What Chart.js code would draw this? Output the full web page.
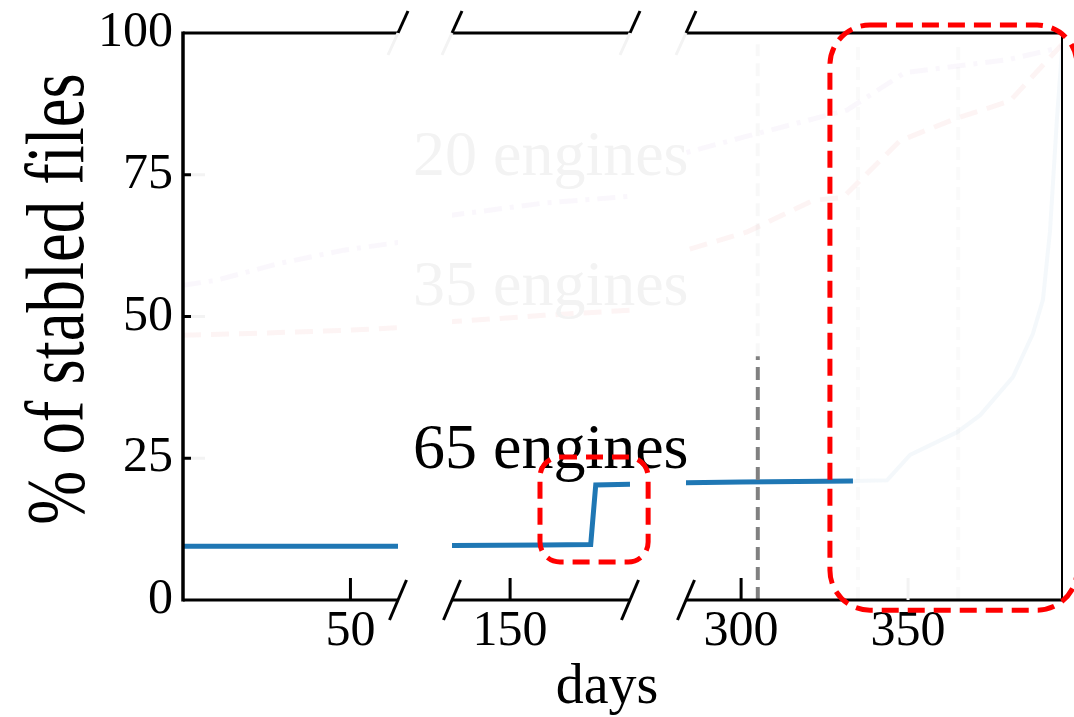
<!DOCTYPE html>
<html>
<head>
<meta charset="utf-8">
<title>% of stabled files</title>
<script src="https://cdn.jsdelivr.net/npm/chart.js@4.4.1/dist/chart.umd.min.js"></script>
<style>
  body { margin: 0; background: #fff; }
  #wrap { position: relative; width: 1074px; height: 717px; }
  #wrap canvas { position: absolute; left: 0; top: 0; }
</style>
</head>
<body>
<div id="wrap">
  <canvas id="segA" width="1074" height="717"></canvas>
  <canvas id="segB" width="1074" height="717"></canvas>
  <canvas id="segC" width="1074" height="717"></canvas>
</div>
<script>
const FONT = "'Liberation Serif', 'Times New Roman', serif";

// 65 engines (the highlighted series)
const days65 = [0, 63.6, 133, 160, 174, 175.5, 185.7, 283.5, 300, 333.5];
const pct65  = [9.5, 9.5, 9.6, 9.7, 9.8, 20.3, 20.4, 20.7, 20.8, 21.0];
// faded tail of the 65 engines series
const days65Fade = [333.5, 343.7, 350.6, 364.7, 371.6, 381.4, 387.4, 390.4, 392.5, 394.6, 396.1];
const pct65Fade  = [21.0, 21.1, 25.6, 29.6, 32.6, 39.3, 47, 53, 65, 85, 97];
// 20 engines (faded)
const days20 = [0, 10, 29, 48, 63.6, 133, 160, 185.7, 283.5, 301.8, 331.7, 349, 380, 396.1];
const pct20  = [55.5, 56.4, 59.4, 61.7, 63, 67.9, 70, 71.2, 78.9, 81.8, 86.4, 93, 95.3, 97.5];
// 35 engines (faded)
const days35 = [0, 20, 50, 63.6, 133, 160, 185.7, 283.5, 301.8, 321.6, 330.5, 347.6, 364.7, 380.5, 396.1];
const pct35  = [46.7, 47, 47.6, 48, 49.1, 50.2, 51.1, 61.7, 64.9, 70.5, 71, 81, 85, 88, 98];

// vertical reference lines
const refDay = 305, refLow = 43, refTop = 98;
const fadeRefDays = [335, 365];

// x windows of the broken axis and their ticks
const seg1 = [0, 64.2], seg2 = [132.7, 185.7], seg3 = [283.5, 396.1];
const ticks1 = [50], ticks2 = [150], ticks3 = [300, 350];
const yTicks = [0, 25, 50, 75, 100];

const zip = (xs, ys) => xs.map((x, i) => ({ x: x, y: ys[i] }));

const FAINT = '#f3f3f3';

function seg(ctx, x1, y1, x2, y2) {
  ctx.beginPath(); ctx.moveTo(x1, y1); ctx.lineTo(x2, y2); ctx.stroke();
}

function roundRect(ctx, x, y, w, h, r) {
  ctx.beginPath();
  ctx.moveTo(x + r, y);
  ctx.lineTo(x + w - r, y);
  ctx.arcTo(x + w, y, x + w, y + r, r);
  ctx.lineTo(x + w, y + h - r);
  ctx.arcTo(x + w, y + h, x + w - r, y + h, r);
  ctx.lineTo(x + r, y + h);
  ctx.arcTo(x, y + h, x, y + h - r, r);
  ctx.lineTo(x, y + r);
  ctx.arcTo(x, y, x + r, y, r);
  ctx.closePath();
  ctx.stroke();
}

// axis lines, break marks, inward ticks
const brokenAxis = {
  id: 'brokenAxis',
  afterDatasetsDraw(chart, args, o) {
    const ctx = chart.ctx, a = chart.chartArea;
    const xs = chart.scales.x, ys = chart.scales.y;
    ctx.save();
    ctx.lineWidth = 3;
    ctx.strokeStyle = '#000';
    seg(ctx, a.left, a.top, a.right, a.top);
    seg(ctx, a.left, a.bottom, a.right, a.bottom);
    if (o.left) {
      ctx.lineWidth = 3.5;
      seg(ctx, a.left, a.top - 1.5, a.left, a.bottom + 1.5);
    }
    if (o.right) {
      ctx.lineWidth = 2;
      seg(ctx, a.right, a.top - 1, a.right, a.bottom + 1);
    }
    ctx.lineWidth = 3;
    const slash = (e) => {
      ctx.strokeStyle = '#000';
      seg(ctx, e - 8.5, a.bottom + 20, e + 8.5, a.bottom - 20);
      seg(ctx, e, a.top, e + 10, a.top - 22);
      ctx.strokeStyle = FAINT;
      seg(ctx, e - 10, a.top + 22, e, a.top);
    };
    if (o.breakLeft) slash(a.left);
    if (o.breakRight) slash(a.right);

    xs.ticks.forEach(t => {
      const px = xs.getPixelForValue(t.value);
      ctx.strokeStyle = t.value >= o.fadeFrom ? FAINT : '#000';
      seg(ctx, px, a.bottom, px, a.bottom - 22);
    });
    if (o.left) {
      [25, 50, 75].forEach(v => {
        const py = ys.getPixelForValue(v);
        ctx.strokeStyle = FAINT;
        seg(ctx, a.left + 8, py, a.left + 22, py);
        ctx.strokeStyle = '#000';
        seg(ctx, a.left, py, a.left + 8, py);
      });
    }
    ctx.restore();
  },
  afterDraw(chart, args, o) {
    const ctx = chart.ctx;
    ctx.save();
    (o.texts || []).forEach(t => {
      ctx.save();
      ctx.translate(t.x, t.y);
      if (t.rotate) ctx.rotate(t.rotate);
      ctx.scale(t.sx || 1, 1);
      ctx.font = t.size + 'px ' + FONT;
      ctx.fillStyle = t.color || '#000';
      ctx.textAlign = t.align || 'left';
      ctx.textBaseline = 'alphabetic';
      ctx.fillText(t.text, 0, 0);
      ctx.restore();
    });
    const xs = chart.scales.x, ys = chart.scales.y;
    ctx.strokeStyle = '#ff0000';
    ctx.lineWidth = 5;
    ctx.setLineDash([17, 9]);
    (o.boxes || []).forEach(b => {
      const x1 = xs.getPixelForValue(b.x0), x2 = xs.getPixelForValue(b.x1);
      const y1 = ys.getPixelForValue(b.y1), y2 = ys.getPixelForValue(b.y0);
      roundRect(ctx, x1, y1, x2 - x1, y2 - y1, b.r);
    });
    ctx.restore();
  }
};

function datasets() {
  return [
    { data: [{ x: refDay, y: 0 }, { x: refDay, y: refLow }], borderColor: '#808080', borderWidth: 4, borderDash: [13, 7] },
    { data: [{ x: refDay, y: refLow }, { x: refDay, y: refTop }], borderColor: 'rgba(128,128,128,0.06)', borderWidth: 4, borderDash: [13, 7] },
    { data: zip(days65, pct65), borderColor: '#1f77b4', borderWidth: 5 },
    { data: zip(days65Fade, pct65Fade), borderColor: 'rgba(31,119,180,0.05)', borderWidth: 4 },
    { data: zip(days20, pct20), borderColor: 'rgba(148,103,189,0.05)', borderWidth: 5, borderDash: [18, 8, 4, 8] },
    { data: zip(days35, pct35), borderColor: 'rgba(214,39,40,0.05)', borderWidth: 5, borderDash: [18, 10] },
    { data: [{ x: fadeRefDays[0], y: 0 }, { x: fadeRefDays[0], y: refTop }], borderColor: 'rgba(128,128,128,0.04)', borderWidth: 4, borderDash: [13, 7] },
    { data: [{ x: fadeRefDays[1], y: 0 }, { x: fadeRefDays[1], y: refTop }], borderColor: 'rgba(128,128,128,0.04)', borderWidth: 4, borderDash: [13, 7] }
  ];
}

function makeSegment(id, range, tickVals, padLeft, padRight, showY, axisOpts) {
  return new Chart(document.getElementById(id), {
    type: 'line',
    data: { datasets: datasets() },
    options: {
      responsive: false,
      animation: false,
      events: [],
      layout: { padding: { left: padLeft, right: padRight, top: 33, bottom: 0 } },
      elements: { point: { radius: 0 }, line: { tension: 0, borderCapStyle: 'butt' } },
      scales: {
        x: {
          type: 'linear',
          min: range[0],
          max: range[1],
          afterBuildTicks: s => { s.ticks = tickVals.map(v => ({ value: v })); },
          afterFit: s => { s.height = 117; s.paddingLeft = 0; s.paddingRight = 0; },
          grid: { display: false, drawTicks: false },
          border: { display: false },
          ticks: { color: '#000', font: { family: FONT, size: 50 }, padding: 2, maxRotation: 0, autoSkip: false }
        },
        y: {
          display: showY,
          min: 0,
          max: 100,
          afterBuildTicks: s => { s.ticks = yTicks.map(v => ({ value: v })); },
          afterFit: s => {
            s.width = showY ? 183 : 0;
            s.paddingTop = 0;
            s.paddingBottom = 0;
          },
          grid: { display: false, drawTicks: false },
          border: { display: false },
          ticks: { color: '#000', font: { family: FONT, size: 50 }, padding: 10 }
        }
      },
      plugins: {
        legend: { display: false },
        tooltip: { enabled: false },
        brokenAxis: axisOpts
      }
    },
    plugins: [brokenAxis]
  });
}

makeSegment('segA', seg1, ticks1, 0, 1074 - 398, true, {
  left: true, breakRight: true, fadeFrom: 999,
  texts: [
    { text: '% of stabled files', x: 83, y: 299, size: 82, sx: 0.79, align: 'center', rotate: -Math.PI / 2 },
    { text: 'days', x: 607, y: 703, size: 56, align: 'center' }
  ]
});

makeSegment('segB', seg2, ticks2, 452, 1074 - 630, false, {
  breakLeft: true, breakRight: true, fadeFrom: 999,
  texts: [
    { text: '20 engines', x: 413, y: 175, size: 64, color: FAINT },
    { text: '35 engines', x: 413, y: 305, size: 64, color: FAINT },
    { text: '65 engines', x: 413, y: 468, size: 64 }
  ],
  boxes: [{ x0: 158.9, x1: 191.1, y0: 6.7, y1: 25.2, r: 20 }]
});

makeSegment('segC', seg3, ticks3, 686, 1074 - 1062, false, {
  breakLeft: true, right: true, fadeFrom: 326,
  boxes: [{ x0: 326.6, x1: 400.6, y0: -1.8, y1: 101.4, r: 40 }]
});
</script>
</body>
</html>
